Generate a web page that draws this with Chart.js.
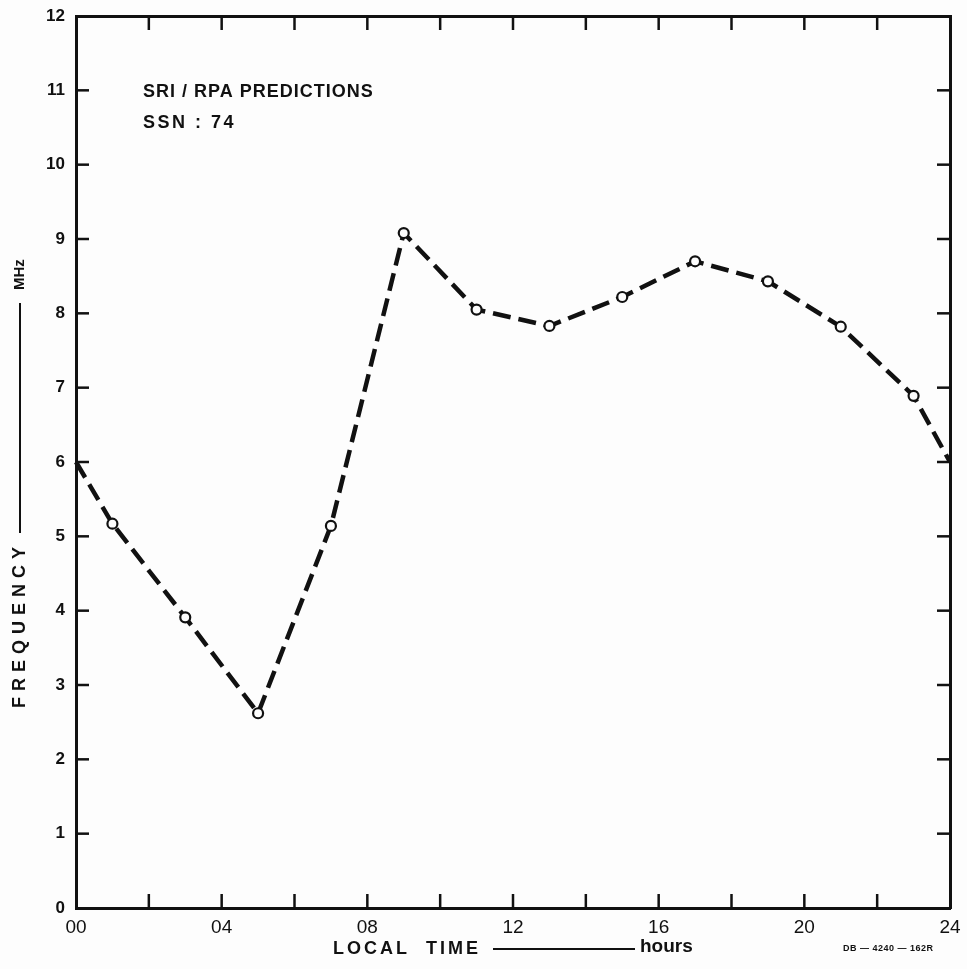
<!DOCTYPE html>
<html><head><meta charset="utf-8">
<script src="https://cdn.jsdelivr.net/npm/chart.js@4"></script>
<style>html,body{margin:0;padding:0;background:#fdfdfd}</style>
</head><body>
<canvas id="c" width="967" height="969"></canvas>
<script>
// ---- data ----
const hours = [0, 1, 3, 5, 7, 9, 11, 13, 15, 17, 19, 21, 23, 24];
const frequencyMHz = [6.0, 5.17, 3.91, 2.62, 5.14, 9.08, 8.05, 7.83, 8.22, 8.70, 8.43, 7.82, 6.89, 6.0];
const markerShown = [false, true, true, true, true, true, true, true, true, true, true, true, true, false];
const xTickHours = [0, 2, 4, 6, 8, 10, 12, 14, 16, 18, 20, 22, 24];
const xLabelHours = [0, 4, 8, 12, 16, 20, 24];
const yTickValues = [0, 1, 2, 3, 4, 5, 6, 7, 8, 9, 10, 11, 12];
const annotationLines = ['SRI / RPA PREDICTIONS', 'SSN : 74'];
const xTitleParts = ['LOCAL  TIME', 'hours'];
const yTitleParts = ['FREQUENCY', 'MHz'];
const figureCode = 'DB \u2014 4240 \u2014 162R';

const INK = '#111';
const FONT = '"Liberation Sans", Arial, sans-serif';

const points = hours.map((h, i) => ({ x: h, y: frequencyMHz[i] }));

function fixBox(size, prop) {
  return s => {
    s[prop] = size;
    s.paddingLeft = 0; s.paddingRight = 0; s.paddingTop = 0; s.paddingBottom = 0;
  };
}

const decor = {
  id: 'decor',
  afterDraw(chart) {
    const ctx = chart.ctx, a = chart.chartArea;
    const xs = chart.scales.x, ys = chart.scales.y;
    ctx.save();
    ctx.strokeStyle = INK;
    ctx.lineWidth = 2.5;
    // inward ticks, x
    xTickHours.forEach(h => {
      const px = xs.getPixelForValue(h);
      if (h === 0 || h === 24) return;
      ctx.beginPath(); ctx.moveTo(px, a.bottom); ctx.lineTo(px, a.bottom - 14); ctx.stroke();
      ctx.beginPath(); ctx.moveTo(px, a.top); ctx.lineTo(px, a.top + 14); ctx.stroke();
    });
    // inward ticks, y
    yTickValues.forEach(v => {
      if (v === 0 || v === 12) return;
      const py = ys.getPixelForValue(v);
      ctx.beginPath(); ctx.moveTo(a.left, py); ctx.lineTo(a.left + 13, py); ctx.stroke();
      ctx.beginPath(); ctx.moveTo(a.right, py); ctx.lineTo(a.right - 13, py); ctx.stroke();
    });
    ctx.fillStyle = INK;
    // annotation
    ctx.font = 'bold 18px ' + FONT;
    ctx.letterSpacing = '1px';
    ctx.textAlign = 'left';
    ctx.textBaseline = 'middle';
    ctx.fillText(annotationLines[0], a.left + 67, 92);
    ctx.letterSpacing = '2.5px';
    ctx.fillText(annotationLines[1], a.left + 67, 123);
    // x title
    ctx.font = 'bold 18px ' + FONT;
    ctx.letterSpacing = '3px';
    ctx.textAlign = 'left';
    ctx.fillText(xTitleParts[0], 333, 949);
    ctx.letterSpacing = '0px';
    ctx.font = 'bold 19px ' + FONT;
    ctx.fillText(xTitleParts[1], 640, 947);
    ctx.lineWidth = 2;
    ctx.beginPath(); ctx.moveTo(493, 949); ctx.lineTo(635, 949); ctx.stroke();
    // figure code
    ctx.font = 'bold 9px ' + FONT;
    ctx.letterSpacing = '0.5px';
    ctx.fillText(figureCode, 843, 949);
    // y title (rotated)
    ctx.save();
    ctx.translate(20, 487);
    ctx.rotate(-Math.PI / 2);
    ctx.font = 'bold 18px ' + FONT;
    ctx.letterSpacing = '6px';
    ctx.textAlign = 'right';
    ctx.fillText(yTitleParts[0], -54, 0);
    ctx.textAlign = 'left';
    ctx.letterSpacing = '0px';
    ctx.font = 'bold 15px ' + FONT;
    ctx.fillText(yTitleParts[1], 197, 0);
    ctx.lineWidth = 2;
    ctx.beginPath(); ctx.moveTo(-46, 0); ctx.lineTo(184, 0); ctx.stroke();
    ctx.restore();
    ctx.restore();
  }
};

new Chart(document.getElementById('c'), {
  type: 'scatter',
  data: {
    datasets: [{
      data: points,
      showLine: true,
      borderColor: INK,
      borderWidth: 4.5,
      borderDash: [18, 8],
      tension: 0,
      pointRadius: markerShown.map(m => m ? 5 : 0),
      pointBackgroundColor: '#fdfdfd',
      pointBorderColor: INK,
      pointBorderWidth: 2.2,
      clip: false
    }]
  },
  options: {
    responsive: false,
    devicePixelRatio: 1,
    animation: false,
    layout: { padding: 0 },
    plugins: { legend: { display: false }, tooltip: { enabled: false } },
    scales: {
      x: {
        type: 'linear', position: 'bottom', min: 0, max: 24,
        afterFit: fixBox(61, 'height'),
        afterBuildTicks: s => { s.ticks = xLabelHours.map(v => ({ value: v })); },
        ticks: {
          autoSkip: false, maxRotation: 0, padding: 8, color: INK,
          font: { family: FONT, size: 19, weight: 'normal' },
          callback: v => String(v).padStart(2, '0')
        },
        grid: { display: false, drawTicks: false },
        border: { display: true, width: 3, color: INK }
      },
      xTop: {
        type: 'linear', position: 'top', min: 0, max: 24,
        afterFit: fixBox(16, 'height'),
        ticks: { display: false },
        grid: { display: false, drawTicks: false },
        border: { display: true, width: 3, color: INK }
      },
      y: {
        type: 'linear', position: 'left', min: 0, max: 12,
        afterFit: fixBox(76, 'width'),
        afterBuildTicks: s => { s.ticks = yTickValues.map(v => ({ value: v })); },
        ticks: {
          autoSkip: false, padding: 11, color: INK,
          font: { family: FONT, size: 17, weight: 'bold' }
        },
        grid: { display: false, drawTicks: false },
        border: { display: true, width: 3, color: INK }
      },
      yRight: {
        type: 'linear', position: 'right', min: 0, max: 12,
        afterFit: fixBox(17, 'width'),
        ticks: { display: false },
        grid: { display: false, drawTicks: false },
        border: { display: true, width: 3, color: INK }
      }
    }
  },
  plugins: [decor]
});
</script>
</body></html>
